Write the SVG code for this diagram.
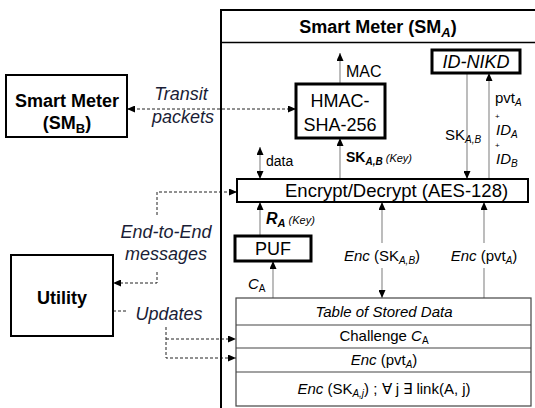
<svg xmlns="http://www.w3.org/2000/svg" width="535" height="408" viewBox="0 0 535 408">
<defs>
<marker id="ah" viewBox="0 0 8 7" refX="8" refY="3.5" markerWidth="8" markerHeight="7" markerUnits="userSpaceOnUse" orient="auto-start-reverse"><path d="M0,0 L8,3.5 L0,7 z" fill="#000"/></marker>
</defs>
<style>
text{font-family:"Liberation Sans",Arial,sans-serif;fill:#000}
.box{fill:#fff;stroke:#000}
.thick{stroke-width:3}
.med{stroke-width:2}
.gl{stroke:#999;stroke-width:1.3;fill:none}
.dl{stroke:#222;stroke-width:1;stroke-dasharray:3,2;fill:none}
.lbl{font-style:italic;font-size:18px;fill:#1a1d36}
.sm{font-size:15px}
.mid{text-anchor:middle}
.b{font-weight:bold}
.i{font-style:italic}
</style>
<rect width="535" height="408" fill="#fff"/>

<g id="connectors">
<line class="dl" x1="127" y1="109" x2="296" y2="109" marker-start="url(#ah)" marker-end="url(#ah)"/>
<path class="dl" d="M157,215 V192 H237" marker-end="url(#ah)"/>
<path class="dl" d="M157,272 V283 H113" marker-end="url(#ah)"/>
<line class="dl" x1="113" y1="311" x2="126" y2="311"/>
<path class="dl" d="M166,327 V358 H236" marker-end="url(#ah)"/>
<path class="dl" d="M166,339 H236" marker-end="url(#ah)"/>
<line class="gl" x1="340" y1="84" x2="340" y2="53" marker-end="url(#ah)"/>
<line class="gl" x1="467" y1="73" x2="467" y2="179" marker-end="url(#ah)"/>
<line class="gl" x1="489" y1="179" x2="489" y2="73" marker-end="url(#ah)"/>
<line class="gl" x1="260" y1="147" x2="260" y2="179" marker-start="url(#ah)" marker-end="url(#ah)"/>
<line class="gl" x1="340" y1="179" x2="340" y2="138" marker-end="url(#ah)"/>
<line class="gl" x1="260" y1="236" x2="260" y2="202" marker-end="url(#ah)"/>
<line class="gl" x1="273" y1="298" x2="273" y2="261" marker-end="url(#ah)"/>
<line class="gl" x1="382" y1="243" x2="382" y2="202" marker-end="url(#ah)"/>
<line class="gl" x1="382" y1="268" x2="382" y2="298" marker-end="url(#ah)"/>
<line class="gl" x1="484" y1="243" x2="484" y2="202" marker-end="url(#ah)"/>
<line class="gl" x1="484" y1="268" x2="484" y2="298"/>
</g>

<g id="smA">
<path d="M221,408 V10 H535" fill="none" stroke="#000" stroke-width="2"/>
<line x1="221" y1="42.5" x2="535" y2="42.5" stroke="#000" stroke-width="1.5"/>
<text x="378" y="33" class="mid b" font-size="18">Smart Meter (SM<tspan font-size="13" font-style="italic" dy="4">A</tspan><tspan dy="-4">)</tspan></text>
</g>

<g id="smB">
<rect class="box med" x="6" y="75" width="121" height="62"/>
<text x="67" y="107" class="mid b" font-size="18">Smart Meter</text>
<text x="67" y="129" class="mid b" font-size="18">(SM<tspan font-size="13" dy="4">B</tspan><tspan dy="-4">)</tspan></text>
</g>

<g id="utility">
<rect class="box med" x="11" y="255" width="102" height="81"/>
<text x="62" y="304" class="mid b" font-size="18">Utility</text>
</g>

<g id="edge-labels">
<text x="181" y="100" class="lbl mid">Transit</text>
<text x="183" y="123" class="lbl mid">packets</text>
<text x="166" y="238" class="lbl mid">End-to-End</text>
<text x="166" y="260" class="lbl mid">messages</text>
<text x="169" y="320" class="lbl mid">Updates</text>
</g>

<g id="hmac">
<rect class="box thick" x="296" y="84" width="89" height="54"/>
<text x="340" y="107" class="mid" font-size="18">HMAC-</text>
<text x="340" y="131" class="mid" font-size="18">SHA-256</text>
<text x="346" y="77" font-size="16">MAC</text>
</g>

<g id="idnikd">
<rect class="box thick" x="432" y="50" width="88" height="23"/>
<text x="476" y="68" class="mid i" font-size="18">ID-NIKD</text>
<text x="445" y="140" class="sm">SK<tspan font-size="10" font-style="italic" dy="3">A,B</tspan></text>
<text x="495" y="103" class="sm">pvt<tspan font-size="10" font-style="italic" dy="3">A</tspan></text>
<text x="495" y="119" font-size="8">+</text>
<text x="496" y="135" class="sm i">ID<tspan font-size="10" dy="3">A</tspan></text>
<text x="495" y="148" font-size="8">+</text>
<text x="496" y="164" class="sm i">ID<tspan font-size="10" dy="3">B</tspan></text>
</g>

<g id="aes">
<rect class="box med" x="237" y="179" width="291" height="23"/>
<text x="285" y="197" font-size="18.5">Encrypt/Decrypt (AES-128)</text>
<text x="266" y="166" font-size="14">data</text>
<text x="346" y="162" class="b" font-size="14">SK<tspan font-size="10" font-style="italic" dy="3">A,B</tspan><tspan font-size="11" font-style="italic" font-weight="normal" dy="-3"> (Key)</tspan></text>
<text x="266" y="224" class="b i" font-size="16">R<tspan font-size="11" dy="3">A</tspan><tspan font-size="11" font-weight="normal" dy="-3"> (Key)</tspan></text>
<text x="382" y="261" class="mid" font-size="15"><tspan font-style="italic">Enc</tspan> (SK<tspan font-size="10" font-style="italic" dy="3">A,B</tspan><tspan dy="-3">)</tspan></text>
<text x="484" y="261" class="mid" font-size="15"><tspan font-style="italic">Enc</tspan> (pvt<tspan font-size="10" font-style="italic" dy="3">A</tspan><tspan dy="-3">)</tspan></text>
</g>

<g id="puf">
<rect class="box thick" x="235" y="236" width="76" height="25"/>
<text x="273" y="255" class="mid" font-size="18">PUF</text>
<text x="248" y="289" class="i" font-size="15">C<tspan font-size="10" font-style="normal" dy="3">A</tspan></text>
</g>

<g id="table">
<rect x="236" y="298" width="295" height="108" fill="#fff" stroke="#444" stroke-width="1.2"/>
<line x1="236" y1="325" x2="531" y2="325" stroke="#444" stroke-width="1.2"/>
<line x1="236" y1="348" x2="531" y2="348" stroke="#444" stroke-width="1.2"/>
<line x1="236" y1="372" x2="531" y2="372" stroke="#444" stroke-width="1.2"/>
<text x="384" y="317" class="mid i" font-size="15">Table of Stored Data</text>
<text x="384" y="341" class="mid" font-size="15">Challenge <tspan font-style="italic">C</tspan><tspan font-size="10" dy="3">A</tspan></text>
<text x="384" y="365" class="mid" font-size="15"><tspan font-style="italic">Enc</tspan> (pvt<tspan font-size="10" font-style="italic" dy="3">A</tspan><tspan dy="-3">)</tspan></text>
<text x="384" y="394" class="mid" font-size="15"><tspan font-style="italic">Enc</tspan> (SK<tspan font-size="10" font-style="italic" dy="3">A,j</tspan><tspan dy="-3">) ; ∀ j ∃ link(A, j)</tspan></text>
</g>
</svg>
